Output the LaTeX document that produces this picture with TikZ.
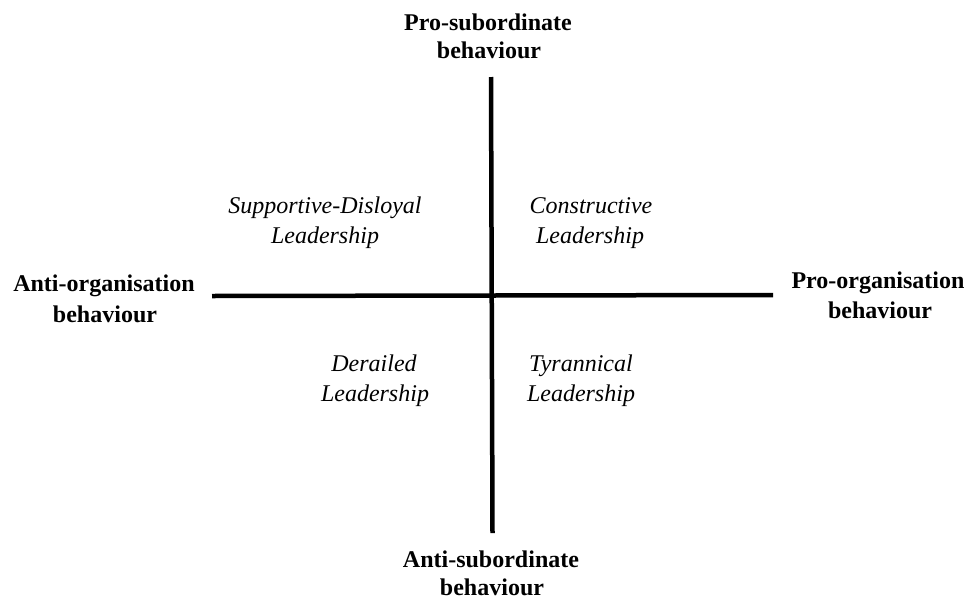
\documentclass[tikz,border=0pt]{standalone}
\usepackage{fontspec}
\setmainfont{Liberation Serif}
\begin{document}
\begin{tikzpicture}[x=1pt,y=-1pt,
  axislabel/.style={font=\fontsize{24}{29}\selectfont\bfseries, anchor=base, inner sep=0pt},
  quadlabel/.style={font=\fontsize{24}{29}\selectfont\itshape, anchor=base, inner sep=0pt},
  axisline/.style={line width=4.5pt, black}]
\useasboundingbox[fill=white] (0,0) rectangle (969,600);
% axes
\coordinate (vtop) at (491,77);
\coordinate (vbot) at (492.5,533);
\coordinate (hleft) at (212,296);
\coordinate (hright) at (773,295);
\draw[axisline] (vtop) -- (vbot);
\draw[axisline] (hleft) -- (hright);
% axis labels
\node[axislabel] (ps1) at (488,30) {Pro-subordinate};
\node[axislabel] (ps2) at (489,58) {behaviour};
\node[axislabel] (as1) at (491,567) {Anti-subordinate};
\node[axislabel] (as2) at (492,595) {behaviour};
\node[axislabel] (ao1) at (104,291) {Anti-organisation};
\node[axislabel] (ao2) at (105,322) {behaviour};
\node[axislabel] (po1) at (878,288) {Pro-organisation};
\node[axislabel] (po2) at (880,318) {behaviour};
% quadrant labels
\node[quadlabel] (sd1) at (325,213) {Supportive-Disloyal};
\node[quadlabel] (sd2) at (325,243) {Leadership};
\node[quadlabel] (co1) at (591,213) {Constructive};
\node[quadlabel] (co2) at (590,243) {Leadership};
\node[quadlabel] (de1) at (374,371) {Derailed};
\node[quadlabel] (de2) at (375,401) {Leadership};
\node[quadlabel] (ty1) at (581,371) {Tyrannical};
\node[quadlabel] (ty2) at (581,401) {Leadership};
\end{tikzpicture}
\end{document}
